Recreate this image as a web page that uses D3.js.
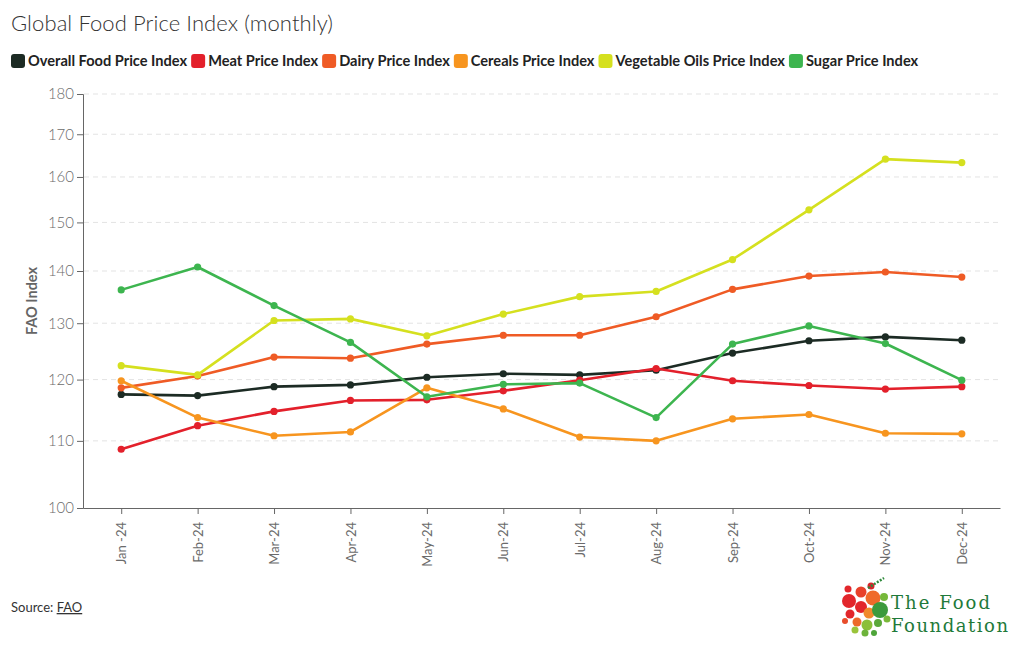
<!DOCTYPE html>
<html>
<head>
<meta charset="utf-8">
<script src="https://cdn.jsdelivr.net/npm/d3@7/dist/d3.min.js"></script>
<style>
  html, body { margin: 0; padding: 0; background: #fff; }
  svg { display: block; }
</style>
</head>
<body>
<svg id="chart" width="1020" height="650"></svg>
<script>
// ---- data ----
const months = ["Jan -24","Feb-24","Mar-24","Apr-24","May-24","Jun-24","Jul-24","Aug-24","Sep-24","Oct-24","Nov-24","Dec-24"];
const seriesNames = ["Overall Food Price Index","Meat Price Index","Dairy Price Index","Cereals Price Index","Vegetable Oils Price Index","Sugar Price Index"];
const seriesColors = ["#1c2b24","#e3202b","#ef5b25","#f7951f","#d5e01f","#3db54f"];
const overall   = [117.5,117.3,118.8,119.1,120.4,121.0,120.8,121.6,124.6,126.8,127.5,126.9];
const meat      = [108.7,112.4,114.7,116.5,116.6,118.1,119.9,121.9,119.8,119.0,118.4,118.8];
const dairy     = [118.6,120.6,123.9,123.7,126.2,127.8,127.8,131.2,136.4,139.0,139.8,138.8];
const cereals   = [119.8,113.7,110.8,111.4,118.6,115.1,110.6,110.0,113.5,114.2,111.2,111.1];
const vegOils   = [122.4,120.8,130.5,130.8,127.7,131.7,135.0,136.0,142.3,152.7,164.1,163.3];
const sugar     = [136.3,140.8,133.3,126.5,117.1,119.2,119.4,113.7,126.2,129.5,126.3,119.9];
const yTicks = [100,110,120,130,140,150,160,170,180];

const seriesValues = [overall, meat, dairy, cereals, vegOils, sugar];

// ---- layout ----
const svg = d3.select("#chart");
const mLeft = 83, mRight = 1000, mTop = 94, mBottom = 508;

const x = d3.scalePoint().domain(months).range([mLeft, mRight]).padding(0.5);
const y = d3.scaleLog().domain([100, 180]).range([mBottom, mTop]);

const tickFont = "Lato, 'Noto Sans', sans-serif";

// title
svg.append("text").attr("x", 11).attr("y", 31)
  .attr("font-family", tickFont).attr("font-size", 22).attr("font-weight", 300)
  .attr("fill", "#333").attr("textLength", 322).text("Global Food Price Index (monthly)");

// legend
const legend = svg.append("g");
let lx = 11;
seriesNames.forEach((n, i) => {
  legend.append("rect").attr("x", lx).attr("y", 54).attr("width", 14).attr("height", 14)
    .attr("rx", 3).attr("fill", seriesColors[i]);
  const t = legend.append("text").attr("x", lx + 17).attr("y", 66)
    .attr("font-family", tickFont).attr("font-size", 14.6).attr("font-weight", 700)
    .attr("fill", "#222").text(n);
  lx += 17 + t.node().getComputedTextLength() + 4;
});

// gridlines
svg.append("g").selectAll("line").data(yTicks.filter(d => d > 100)).join("line")
  .attr("x1", mLeft + 1).attr("x2", mRight).attr("y1", d => y(d)).attr("y2", d => y(d))
  .attr("stroke", "#e3e3e3").attr("stroke-dasharray", "5,4").attr("stroke-width", 1);

// y axis
const yAxis = svg.append("g").attr("transform", `translate(${mLeft},0)`)
  .call(d3.axisLeft(y).tickValues(yTicks).tickFormat(d3.format("d")).tickSize(6).tickPadding(3));
yAxis.select(".domain").attr("stroke", "#666");
yAxis.selectAll(".tick line").attr("stroke", "#666");
yAxis.selectAll(".tick text").attr("font-family", tickFont).attr("font-size", 15)
  .attr("fill", "#6b6b6b").attr("font-weight", 300);

// y label
svg.append("text").attr("transform", `translate(37,${(mTop + mBottom) / 2}) rotate(-90)`)
  .attr("text-anchor", "middle").attr("font-family", tickFont).attr("font-size", 14.5)
  .attr("font-weight", 700).attr("fill", "#666").text("FAO Index");

// x axis
const xAxis = svg.append("g").attr("transform", `translate(0,${mBottom})`)
  .call(d3.axisBottom(x).tickSize(6).tickPadding(4).tickSizeOuter(0));
xAxis.select(".domain").attr("stroke", "#666");
xAxis.selectAll(".tick line").attr("stroke", "#666");
xAxis.selectAll(".tick text")
  .attr("font-family", tickFont).attr("font-size", 13).attr("fill", "#6b6b6b")
  .attr("text-anchor", "end").attr("dy", "0.35em")
  .attr("transform", "translate(0,4) rotate(-90)").attr("x", -10).attr("y", 0);

// lines
const line = d3.line().x((d, i) => x(months[i])).y(d => y(d));
const g = svg.append("g");
seriesValues.forEach((vals, si) => {
  g.append("path").datum(vals).attr("d", line).attr("fill", "none")
    .attr("stroke", seriesColors[si]).attr("stroke-width", 2.6).attr("stroke-linejoin", "round");
  g.append("g").selectAll("circle").data(vals).join("circle")
    .attr("cx", (d, i) => x(months[i])).attr("cy", d => y(d)).attr("r", 3.6)
    .attr("fill", seriesColors[si]);
});

// source
const src = svg.append("text").attr("x", 11).attr("y", 612)
  .attr("font-family", tickFont).attr("font-size", 13).attr("fill", "#333");
src.append("tspan").text("Source: ");
src.append("tspan").attr("text-decoration", "underline").text("FAO");

// logo
const logo = svg.append("g");
const dots = [
  [849,601,7,"#e2262b"],[861,592,5.5,"#e8412a"],[873,598,7.5,"#ef6a2a"],[861,607,6,"#e2262b"],
  [850,614,4.5,"#e2262b"],[857,622,4.5,"#ec6a2b"],[869,613,5.5,"#f08a2a"],[880,610,8,"#3c9a3c"],
  [884,597,4,"#76b83a"],[867,625,5.5,"#8bbf3a"],[878,623,4,"#5aa83a"],[855,630,3.5,"#9ac43a"],
  [865,633,3.5,"#6db33b"],[848,589,3.5,"#e2262b"],[871,586,3.5,"#d9232a"],[887,619,3.5,"#7ab83a"],
  [845,621,3,"#e84d2b"],[874,633,3,"#4ea53a"]
];
logo.selectAll("circle").data(dots).join("circle")
  .attr("cx", d => d[0]).attr("cy", d => d[1]).attr("r", d => d[2]).attr("fill", d => d[3]);
logo.append("path").attr("d", "M868,588 L884,578").attr("stroke", "#2f8a3c").attr("stroke-width", 2.5).attr("stroke-dasharray", "2,1.5");
logo.append("text").attr("x", 891).attr("y", 609).attr("font-family", "'DejaVu Serif', serif")
  .attr("font-size", 18).attr("fill", "#1f7a3a").attr("textLength", 99).text("The Food");
logo.append("text").attr("x", 891).attr("y", 632).attr("font-family", "'DejaVu Serif', serif")
  .attr("font-size", 18).attr("fill", "#1f7a3a").attr("textLength", 117).text("Foundation");
</script>
</body>
</html>
